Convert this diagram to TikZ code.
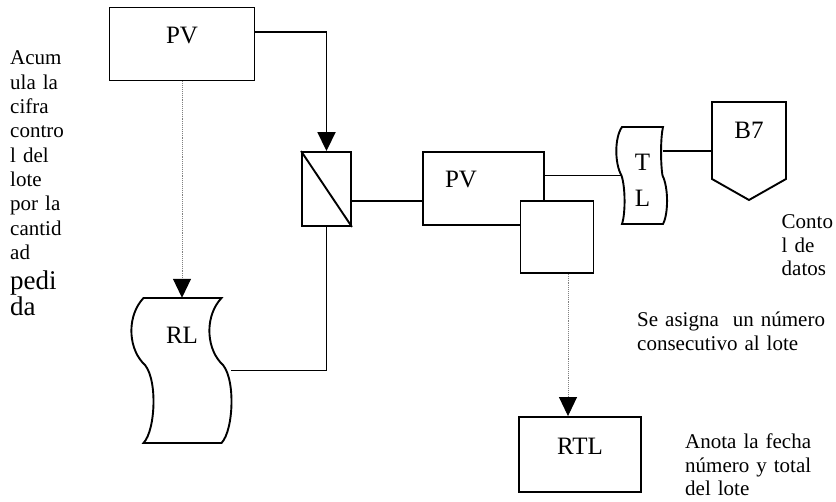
\documentclass[tikz,border=0pt]{standalone}
\usepackage{fontspec}
\setmainfont{Liberation Serif}
\usetikzlibrary{arrows.meta, calc}
\tikzset{
  caja/.style={rectangle, draw=black, line width=1.9pt, fill=white, inner sep=0pt, font=\fontsize{25}{30}\selectfont, text height=17pt},
  forma/.style={rectangle, inner sep=0pt, font=\fontsize{25}{36}\selectfont, text height=17pt},
  nota/.style={anchor=base west, inner sep=0pt, align=left, font=\fontsize{21}{23.5}\selectfont},
  linea/.style={line width=1.9pt},
  flecha/.style={line width=1.9pt, -{Triangle[width=18pt,length=19pt]}},
  punteada/.style={gray, line width=0.9pt, densely dotted, -{Triangle[width=18pt,length=19pt,black]}}
}

\begin{document}
\begin{tikzpicture}[x=1pt, y=-1pt]
    \useasboundingbox (0,0) rectangle (836,502);

    % --- Cajas de proceso ---
    \node (pv1) [caja, minimum width=145pt, minimum height=73pt, text depth=18.6pt] at (182,44) {PV};
    \node (col) [caja, minimum width=49pt, minimum height=74pt] at (326.5,189) {};
    \node (pv2) [caja, minimum width=121pt, minimum height=73pt, text width=77pt, align=left, text depth=19.6pt] at (483.5,188.5) {PV};
    \node (aux) [caja, minimum width=73pt, minimum height=72pt] at (557,237) {};
    \node (rtl) [caja, minimum width=122pt, minimum height=75pt, text depth=17.6pt] at (580,454.5) {RTL};

    % --- Formas de registro y conector ---
    \node (rl) [forma, minimum width=97pt, minimum height=145pt, text depth=71.6pt] at (182,370.5) {RL};
    \node (tl) [forma, minimum width=41pt, minimum height=97pt, text width=41pt, align=center, text depth=27.6pt] at (642.5,175.5) {T\\L};
    \node (b7) [forma, minimum width=74pt, minimum height=98pt, text depth=42.6pt] at (749,151) {B7};

    % contornos (relativos al centro de cada nodo)
    \draw [linea] (col.north west) -- (col.south east);
    \draw [linea, shift={(rl.center)}] (-38.5,-72.5) -- (39.5,-72.5)
        .. controls (23.5,-55.5) and (23.5,-25) .. (38.5,-8)
        .. controls (54,4) and (52,59.5) .. (39.5,72.5) -- (-38.5,72.5)
        .. controls (-26,59.5) and (-24,4) .. (-39.5,-8)
        .. controls (-54.5,-25) and (-54.5,-55.5) .. (-38.5,-72.5) -- cycle;
    \draw [linea, shift={(tl.center)}] (-20.5,-48.5) -- (20.5,-48.5)
        .. controls (18,-38) and (18,-12) .. (20,0)
        .. controls (26,12) and (26,38) .. (20.5,48.5) -- (-20.5,48.5)
        .. controls (-17,38) and (-17,12) .. (-21,0)
        .. controls (-28,-12) and (-28,-38) .. (-20.5,-48.5) -- cycle;
    \draw [linea, shift={(b7.center)}] (-37,-49) -- (37,-49) -- (37,28) -- (0,49) -- (-37,28) -- cycle;

    % --- Notas ---
    \node (acumula) [nota, text width=60pt, font=\fontsize{21}{24.3}\selectfont] at (10,65) {Acum\\\makebox[52pt][s]{ula la}\\cifra\\contro\\l del\\lote\\\makebox[52pt][s]{por la}\\cantid\\ad\par\fontsize{27}{30.5}\selectfont pedi\\da};
    \node (control) [nota, text width=60pt] at (781.5,229) {Conto\\l de\\datos};
    \node (asigna) [nota, text width=200pt] at (637,327) {Se asigna\ \ un número\\consecutivo al lote};
    \node (anota) [nota, text width=150pt] at (685,449) {Anota la fecha\\número y total\\del lote};

    % --- Conexiones ---
    \draw [flecha] ([yshift=12pt]pv1.east) -| (col.north);
    \draw [linea] ([yshift=-12pt]col.east) -- ([yshift=-12.5pt]pv2.west);
    \draw [linea] (col.south) |- (rl.east);
    \draw [linea] (tl.west) -- (tl.west -| pv2.east);
    \draw [linea] (b7.west) -- (b7.west -| tl.east);

    % flechas punteadas
    \draw [punteada] (pv1.south) -- (rl.north);
    \draw [punteada] ([xshift=11pt]aux.south) -- ([xshift=-12pt]rtl.north);

\end{tikzpicture}
\end{document}
